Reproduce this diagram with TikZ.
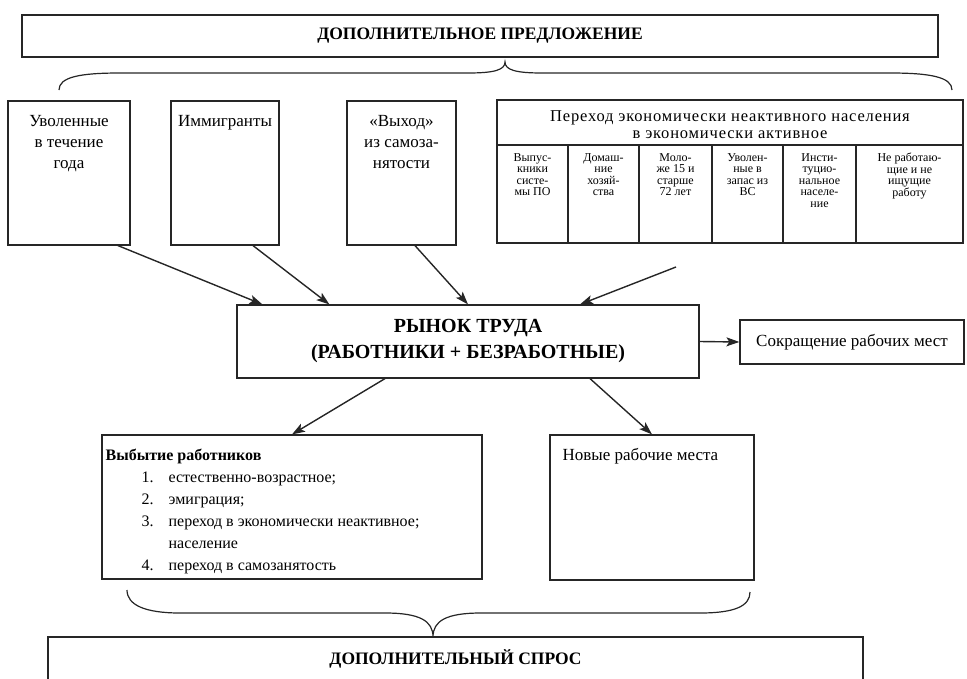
\documentclass[tikz,border=0pt]{standalone}
\usepackage{fontspec}
\setmainfont{Liberation Serif}
\newfontfamily\spacedserif[LetterSpace=5]{Liberation Serif}
\usetikzlibrary{arrows.meta,positioning}

\begin{document}
\begin{tikzpicture}[x=1pt,y=-1pt,
    plainbox/.style={draw=black!85, line width=1.2pt, inner sep=0pt},
    boxtext/.style={font=\fontsize{17}{21}\selectfont, align=center, inner sep=0pt},
    celltext/.style={font=\fontsize{12}{11.6}\selectfont, align=center, inner sep=0pt},
    titletext/.style={font=\fontsize{17.5}{20}\selectfont\bfseries},
    flow/.style={draw=black!85, line width=1.4pt, -{Stealth[length=13pt,width=9pt,inset=3pt]}}]
\useasboundingbox (0,0) rectangle (967,678);

% supply and its brace
\node[plainbox, titletext, minimum width=916pt, minimum height=42pt] (supply) at (480,36) {ДОПОЛНИТЕЛЬНОЕ ПРЕДЛОЖЕНИЕ};
\draw[draw=black!85, line width=1.2pt] (59,90) .. controls (59,77) and (80,73) .. (120,73) -- (468,73)
    .. controls (494,73) and (505,70) .. (505,62) .. controls (505,70) and (516,73) .. (542,73) -- (890,73)
    .. controls (930,73) and (952,77) .. (952,90);

% sources of supply
\node[plainbox, minimum width=122pt, minimum height=144pt] (fired) at (69,173) {};
\node[boxtext, anchor=north] (firedtxt) at ([yshift=-15pt]fired.north) {Уволенные\\в течение\\года};
\node[plainbox, minimum width=108pt, minimum height=144pt] (immig) at (225,173) {};
\node[boxtext, anchor=north] (immigtxt) at ([yshift=-15pt]immig.north) {Иммигранты};
\node[plainbox, minimum width=109pt, minimum height=144pt] (selfexit) at (401.5,173) {};
\node[boxtext, anchor=north] (selfexittxt) at ([yshift=-15pt]selfexit.north) {«Выход»\\из самоза-\\нятости};

% inactive population table
\node[plainbox, minimum width=466pt, minimum height=143pt] (inactive) at (730,171.5) {};
\coordinate (hdr) at (0,145);
\draw[plainbox] (inactive.west |- hdr) -- (inactive.east |- hdr);
\foreach \cx in {568,639,712,783,856}
    \draw[plainbox] (\cx,145) -- (\cx,243);
\node[font=\fontsize{16.5}{17}\selectfont\spacedserif, align=center, inner sep=0pt] (inacttitle) at (730,125) {Переход экономически неактивного населения\\в экономически активное};
\foreach \cx/\ctext [count=\i] in {532.5/{Выпус-\\кники\\систе-\\мы ПО},
        603.5/{Домаш-\\ние\\хозяй-\\ства},
        675.5/{Моло-\\же 15 и\\старше\\72 лет},
        747.5/{Уволен-\\ные в\\запас из\\ВС},
        819.5/{Инсти-\\туцио-\\нальное\\населе-\\ние},
        909.5/{Не работаю-\\щие и не\\ищущие\\работу}}
    \node[celltext, anchor=north] (cell\i) at (\cx,153) {\ctext};

% labour market
\node[plainbox, minimum width=462pt, minimum height=73pt, align=center,
      font=\fontsize{20}{26}\selectfont\bfseries] (market) at (468,341.5) {РЫНОК ТРУДА\\(РАБОТНИКИ + БЕЗРАБОТНЫЕ)};
\node[plainbox, boxtext, minimum width=224pt, minimum height=44pt] (cuts) at (852,342) {Сокращение рабочих мест};

% outflow and new jobs
\node[plainbox, minimum width=380pt, minimum height=144pt] (outflow) at (292,507) {};
\node[anchor=north west, inner sep=0pt, font=\fontsize{16}{22}\selectfont] (outflowtxt) at ([xshift=4pt,yshift=-10pt]outflow.north west) {%
    \begin{tabular}{@{\hspace{36pt}}r@{\hspace{15pt}}l}
    \multicolumn{2}{@{}l}{\textbf{Выбытие работников}}\\
    1.&естественно-возрастное;\\
    2.&эмиграция;\\
    3.&переход в экономически неактивное;\\
    &население\\
    4.&переход в самозанятость
    \end{tabular}};
\node[plainbox, minimum width=204pt, minimum height=145pt] (newjobs) at (652,507.5) {};
\node[boxtext, anchor=north west] (newjobstxt) at ([xshift=13pt,yshift=-14pt]newjobs.north west) {Новые рабочие места};

% arrows
\coordinate (free) at (676,267);
\draw[flow] ([xshift=49pt]fired.south) -- ([xshift=26pt]market.north west);
\draw[flow] ([xshift=28pt]immig.south) -- ([xshift=93pt]market.north west);
\draw[flow] ([xshift=13.5pt]selfexit.south) -- (market.north);
\draw[flow] (free) -- ([xshift=112pt]market.north);
\draw[flow] (market.east) -- (cuts.west);
\draw[flow] ([xshift=-83pt]market.south) -- (outflow.north);
\draw[flow] ([xshift=122pt]market.south) -- (newjobs.north);

% demand and its brace
\draw[draw=black!85, line width=1.2pt] (127,590) .. controls (127,605) and (145,613) .. (180,613) -- (385,613)
    .. controls (420,613) and (433,621) .. (433,637) .. controls (433,621) and (446,613) .. (481,613) -- (700,613)
    .. controls (735,613) and (750,606) .. (750,592);
\node[plainbox, titletext, minimum width=815pt, minimum height=44pt] (demand) at (455.5,659) {ДОПОЛНИТЕЛЬНЫЙ СПРОС};
\end{tikzpicture}
\end{document}
